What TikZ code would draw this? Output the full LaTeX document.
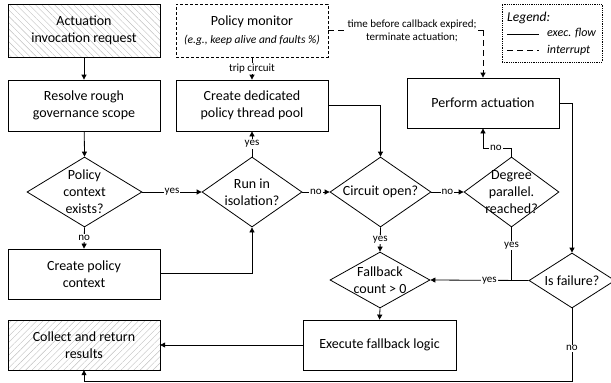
\documentclass[tikz,border=0pt]{standalone}
\usepackage{fontspec}
\setmainfont{Carlito}
\usetikzlibrary{arrows.meta,shapes.geometric,patterns.meta}
\begin{document}
\begin{tikzpicture}[x=1pt,y=-1pt,
  mainfont/.style={font=\fontsize{14}{17}\selectfont},
  box/.style={draw, line width=0.8pt, minimum width=152pt, minimum height=51pt, align=center, inner sep=0pt, mainfont},
  dia/.style={draw, shape=diamond, line width=0.8pt, inner sep=0pt},
  dtext/.style={align=center, mainfont, inner sep=0pt},
  lab/.style={font=\fontsize{11}{13}\selectfont, fill=white, inner sep=1pt},
  flow/.style={line width=0.8pt, -{Triangle[length=5pt,width=5pt]}},
  link/.style={line width=0.8pt},
  intr/.style={line width=0.8pt, dash pattern=on 6pt off 4pt},
  hatchA/.style={pattern={Lines[angle=-45,distance=4.5pt,line width=0.4pt]}, pattern color=black!25},
  hatchB/.style={pattern={Lines[angle=45,distance=4.5pt,line width=0.4pt]}, pattern color=black!25},
]
\useasboundingbox (0,0) rectangle (611,383);

% boxes
\node[box, hatchA, minimum height=53pt] (act) at (84,30.5) {Actuation\\invocation request};
\node[box] (res) at (84,105.5) {Resolve rough\\governance scope};
\node[box, minimum height=50pt] (cpc) at (84,274) {Create policy\\context};
\node[box, hatchB, minimum height=50pt] (col) at (84,345) {Collect and return\\results};
\node[box, densely dashed, minimum height=53pt] (mon) at (252,30.5) {Policy monitor\\[1pt]{\fontsize{11.5}{13}\selectfont\itshape (e.g., keep alive and faults \%)}};
\node[box] (cdp) at (252,105.5) {Create dedicated\\policy thread pool};
\node[box, minimum height=50pt] (pa) at (483,103) {Perform actuation};
\node[box, minimum width=153pt, minimum height=50pt] (efl) at (379.5,345) {Execute fallback logic};

% diamonds
\node[dia, minimum width=115pt, minimum height=70pt] (pce) at (84.5,192) {};
\node[dtext] at (pce.center) {Policy\\context\\exists?};
\node[dia, minimum width=100pt, minimum height=70pt] (pie) at (252,192) {};
\node[dtext] at (pie.center) {Run in\\isolation?};
\node[dia, minimum width=101pt, minimum height=70pt] (cop) at (380.5,192) {};
\node[dtext] at (cop.center) {Circuit open?};
\node[dia, minimum width=95pt, minimum height=70pt] (dpr) at (511.5,192) {};
\node[dtext] at (dpr.center) {Degree\\parallel.\\reached?};
\node[dia, minimum width=100pt, minimum height=56pt] (fb) at (380,280) {};
\node[dtext] at (fb.center) {Fallback\\count > 0};
\node[dia, minimum width=86pt, minimum height=55pt] (isf) at (572,280.5) {};
\node[dtext] at (isf.center) {Is failure?};

% helper coordinates
\coordinate (c1) at (252,273);
\coordinate (c2) at (380.5,105.5);
\coordinate (c3) at (511.5,148);
\coordinate (c4) at (483,148);
\coordinate (c5) at (572,103);
\coordinate (c6) at (511.5,280);
\coordinate (c7) at (572,381);
\coordinate (c8) at (84,381);
\coordinate (c9) at (483,30);
\coordinate (c10) at (328,30);

% connectors
\draw[flow] (act) -- (res);
\draw[flow] (res) -- (pce.north);
\draw[flow] (pce.east) -- node[lab]{yes} (pie.west);
\draw[flow] (pce.south) -- node[lab]{no} (cpc.north);
\draw[flow] (cpc.east |- c1) -- (c1) -- (pie.south);
\draw[flow] (pie.north) -- node[lab]{yes} (cdp.south);
\draw[flow] (mon.south) -- node[lab]{trip circuit} (cdp.north);
\draw[flow] (cdp.east) -- (c2) -- (cop.north);
\draw[flow] (pie.east) -- node[lab]{no} (cop.west);
\draw[flow] (cop.east) -- node[lab]{no} (dpr.west);
\draw[flow] (dpr.north) -- (c3) -- node[lab, pos=0.55]{no} (c4) -- (pa.south);
\draw[flow] (cop.south) -- node[lab]{yes} (fb.north);
\draw[flow] (pa.east |- c5) -- (c5) -- (isf.north);
\draw[flow] (isf.west) -- node[lab, pos=0.4]{yes} (fb.east);
\draw[link] (dpr.south) -- node[lab, pos=0.35]{yes} (c6);
\draw[flow] (fb.south) -- (efl.north);
\draw[flow] (efl.west) -- (col.east |- efl.west);
\draw[flow] (isf.south) -- node[lab, pos=0.55]{no} (c7) -- (c8) -- (col.south);
\draw[intr] (mon.east |- c10) -- (c9);
\draw[intr, -{Triangle[length=5pt,width=5pt]}] (c9) -- (pa.north);
\node[lab, align=center, font=\fontsize{11}{13}\selectfont, inner sep=1pt] (tl) at (412,31) {time before callback expired;\\terminate actuation;};

% legend
\node[draw, densely dotted, line width=0.8pt, minimum width=100pt, minimum height=58pt, inner sep=0pt] (leg) at (552,33) {};
\node[anchor=west, inner sep=0pt, font=\fontsize{13.5}{15}\selectfont\itshape] (lt) at (507,18) {Legend:};
\coordinate (l1a) at (507,34);
\coordinate (l1b) at (539,34);
\coordinate (l2a) at (507,50);
\coordinate (l2b) at (539,50);
\draw[link] (l1a) -- (l1b);
\draw[intr] (l2a) -- (l2b);
\node[anchor=west, inner sep=0pt, font=\fontsize{12}{14}\selectfont\itshape] (le1) at (547,33) {exec. flow};
\node[anchor=west, inner sep=0pt, font=\fontsize{12}{14}\selectfont\itshape] (le2) at (547,50) {interrupt};
\end{tikzpicture}
\end{document}
